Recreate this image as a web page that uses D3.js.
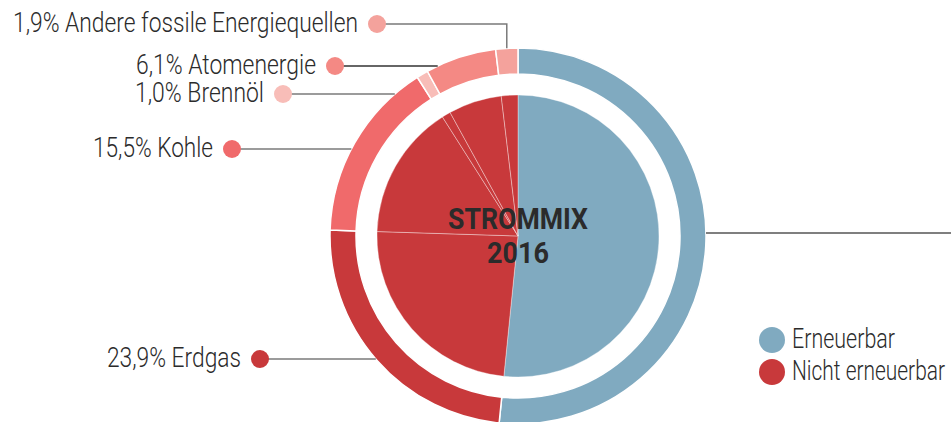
<!DOCTYPE html>
<html>
<head>
<meta charset="utf-8">
<script src="https://cdn.jsdelivr.net/npm/d3@7"></script>
<style>
  body { margin: 0; background: #fff; }
  text { font-family: Roboto, "Liberation Sans Narrow", sans-serif; fill: #2b2b2b; }
</style>
</head>
<body>
<script>
var width = 951,
    height = 422;

// data
var categories = ["Erneuerbar", "Erdgas", "Kohle", "Brennöl", "Atomenergie", "Andere fossile Energiequellen"];
var values = [51.6, 23.9, 15.5, 1.0, 6.1, 1.9];
var ringColors = ["#80aac0", "#c8393b", "#f06a6b", "#f8bdb8", "#f48984", "#f4a29c"];
var pieColors = ["#80aac0", "#c8393b", "#c8393b", "#c8393b", "#c8393b", "#c8393b"];
var legendLabels = ["Erneuerbar", "Nicht erneuerbar"];
var legendColors = ["#80aac0", "#c8393b"];
var title = ["STROMMIX", "2016"];

// layout
var cx = 518, cy = 236,
    rOuter = 188, rInner = 162, rPie = 141;

// label layout: index into categories, label y, text width (condensed face)
var labels = [
  {i: 5, y: 24, w: 345, elbow: true},
  {i: 4, y: 66, w: 180},
  {i: 3, y: 94, w: 129},
  {i: 2, y: 149, w: 120},
  {i: 1, y: 359, w: 134}
];
var dotX = {5: 377, 4: 335, 3: 283, 2: 232, 1: 260};

var svg = d3.select("body").append("svg")
    .attr("width", width)
    .attr("height", height);

var pie = d3.pie().sort(null).value(function(d) { return d; });
var arcs = pie(values);

var g = svg.append("g").attr("transform", "translate(" + cx + "," + cy + ")");

var ringArc = d3.arc().innerRadius(rInner).outerRadius(rOuter);
var pieArc = d3.arc().innerRadius(0).outerRadius(rPie);

g.selectAll(".ring")
    .data(arcs)
    .enter().append("path")
    .attr("class", "ring")
    .attr("d", ringArc)
    .style("fill", function(d, i) { return ringColors[i]; })
    .style("stroke", "#fff")
    .style("stroke-width", 1.5);

g.selectAll(".slice")
    .data(arcs)
    .enter().append("path")
    .attr("class", "slice")
    .attr("d", pieArc)
    .style("fill", function(d, i) { return pieColors[i]; })
    .style("stroke", "rgba(255,255,255,0.45)")
    .style("stroke-width", 0.8);

// title
svg.append("text")
    .attr("x", cx).attr("y", 229)
    .attr("text-anchor", "middle")
    .attr("textLength", 140).attr("lengthAdjust", "spacingAndGlyphs")
    .style("font-weight", 700).style("font-size", "29px")
    .text(title[0]);
svg.append("text")
    .attr("x", cx).attr("y", 263)
    .attr("text-anchor", "middle")
    .attr("textLength", 62).attr("lengthAdjust", "spacingAndGlyphs")
    .style("font-weight", 700).style("font-size", "29px")
    .text(title[1]);

// leader lines and labels
var fmt = function(v) { return v.toFixed(1).replace(".", ",") + "%"; };

labels.forEach(function(l) {
  var a = arcs[l.i];
  var x0 = dotX[l.i];
  var path;
  if (l.elbow) {
    var mid = (a.startAngle + a.endAngle) / 2;
    var ex = cx + rOuter * Math.sin(mid),
        ey = cy - rOuter * Math.cos(mid);
    path = "M" + x0 + "," + l.y + "H" + ex + "V" + ey;
  } else {
    var dy = cy - l.y;
    var ex2 = cx - Math.sqrt(rOuter * rOuter - dy * dy);
    path = "M" + x0 + "," + l.y + "H" + ex2;
  }
  svg.append("path")
      .attr("d", path)
      .style("fill", "none")
      .style("stroke", l.i === 4 ? "#333" : "#7a7a7a")
      .style("stroke-width", 1.5);

  svg.append("circle")
      .attr("cx", x0).attr("cy", l.y).attr("r", 9)
      .style("fill", ringColors[l.i]);

  svg.append("text")
      .attr("x", x0 - 19).attr("y", l.y + 8)
      .attr("text-anchor", "end")
      .attr("textLength", l.w).attr("lengthAdjust", "spacingAndGlyphs")
      .style("font-weight", 300).style("font-size", "28px")
      .text(fmt(values[l.i]) + " " + categories[l.i]);
});

// line to the renewable label (off-canvas)
svg.append("line")
    .attr("x1", cx + Math.sqrt(rOuter * rOuter - 9)).attr("y1", 233)
    .attr("x2", width).attr("y2", 233)
    .style("stroke", "#555")
    .style("stroke-width", 1.5);

// legend
var legend = svg.selectAll(".legend")
    .data(legendLabels)
    .enter().append("g")
    .attr("class", "legend")
    .attr("transform", function(d, i) { return "translate(772," + (340 + i * 32) + ")"; });

legend.append("circle")
    .attr("r", 13)
    .style("fill", function(d, i) { return legendColors[i]; });

legend.append("text")
    .attr("x", 20).attr("y", 8)
    .attr("textLength", function(d, i) { return i ? 153 : 103; })
    .attr("lengthAdjust", "spacingAndGlyphs")
    .style("font-weight", 300).style("font-size", "28px")
    .text(function(d) { return d; });
</script>
</body>
</html>
